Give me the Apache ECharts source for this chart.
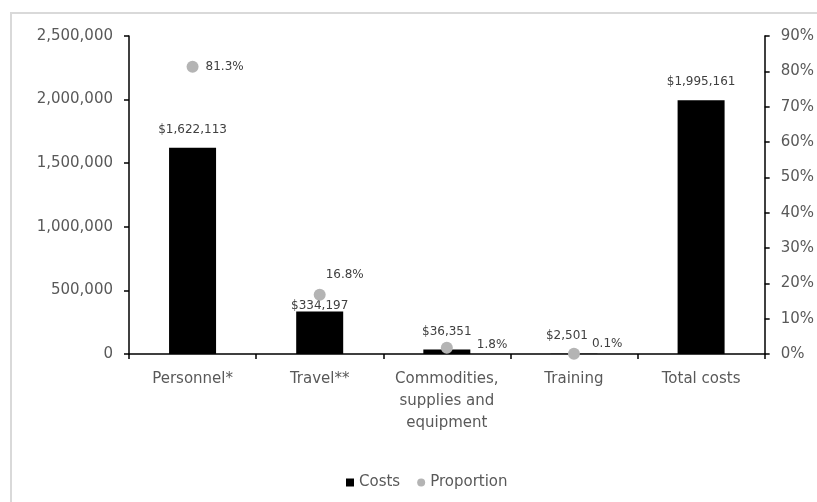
<!DOCTYPE html>
<html><head><meta charset="utf-8">
<script src="https://cdn.jsdelivr.net/npm/echarts@6/dist/echarts.min.js"></script>
<style>html,body{margin:0;padding:0;background:#fff}#c{width:817px;height:502px}</style>
</head><body><div id="c"></div>
<script>
var categories = ['Personnel*', 'Travel**', 'Commodities,\nsupplies and\nequipment', 'Training', 'Total costs'];
var costs = [1622113, 334197, 36351, 2501, 1995161];
var proportion = [81.3, 16.8, 1.8, 0.1, null];
var costTicks = [0, 500000, 1000000, 1500000, 2000000, 2500000];
var pctTicks = [0, 10, 20, 30, 40, 50, 60, 70, 80, 90];

var FONT = 'DejaVu Sans';
var TXT = '#595959';
var LBL = '#404040';
function money(v){ return '$' + v.toLocaleString('en-US'); }

var costLabelDist = [12, 0, 12, 12, 12];
var costData = costs.map(function(v, i){
  return {value: v, label: {distance: costLabelDist[i], offset: i === 3 ? [-7, 0] : [0, 0]}};
});
var propLabelPos = ['right', 'top', 'right', 'right', 'right'];
var propLabelOff = [[2, 0], [25, -3], [19, -3], [7, -10], [0, 0]];
var propData = proportion.map(function(v, i){
  return {value: v, label: {position: propLabelPos[i], offset: propLabelOff[i], color: LBL}};
});

var chart = echarts.init(document.getElementById('c'), null, {renderer: 'canvas'});
chart.setOption({
  animation: false,
  textStyle: {fontFamily: FONT},
  graphic: [{type: 'rect', shape: {x: 11, y: 13, width: 1200, height: 1000},
    style: {fill: 'none', stroke: '#d9d9d9', lineWidth: 2}, silent: true}],
  grid: {left: 129, right: 52, top: 36, bottom: 148},
  legend: {
    top: 470, left: 341, itemGap: 17, itemWidth: 8, itemHeight: 8,
    textStyle: {fontFamily: FONT, fontSize: 15, color: TXT},
    data: [{name: 'Costs', icon: 'rect'}, {name: 'Proportion', icon: 'circle'}]
  },
  xAxis: {
    type: 'category', data: categories,
    axisLine: {lineStyle: {color: '#000', width: 1.5}},
    axisTick: {show: true, length: 5, lineStyle: {color: '#000', width: 1.5}},
    axisLabel: {fontFamily: FONT, fontSize: 15, color: TXT, margin: 14, lineHeight: 22, interval: 0}
  },
  yAxis: [{
    type: 'value', min: costTicks[0], max: costTicks[costTicks.length - 1], interval: costTicks[1] - costTicks[0],
    splitLine: {show: false},
    axisLine: {show: true, lineStyle: {color: '#000', width: 1.5}},
    axisTick: {show: true, length: 5, lineStyle: {color: '#000', width: 1.5}},
    axisLabel: {fontFamily: FONT, fontSize: 15, color: TXT, margin: 16,
      formatter: function(v){ return v.toLocaleString('en-US'); }}
  }, {
    type: 'value', min: pctTicks[0], max: pctTicks[pctTicks.length - 1], interval: pctTicks[1] - pctTicks[0],
    position: 'right',
    splitLine: {show: false},
    axisLine: {show: true, lineStyle: {color: '#000', width: 1.5}},
    axisTick: {show: true, length: 5, lineStyle: {color: '#000', width: 1.5}},
    axisLabel: {fontFamily: FONT, fontSize: 15, color: TXT, margin: 16, formatter: '{value}%'}
  }],
  series: [{
    name: 'Costs', type: 'bar', data: costData, barWidth: 47, yAxisIndex: 0,
    itemStyle: {color: '#000'},
    label: {show: true, position: 'top', fontFamily: FONT, fontSize: 12, color: LBL,
      formatter: function(p){ return money(p.value); }}
  }, {
    name: 'Proportion', type: 'scatter', data: propData, yAxisIndex: 1,
    symbol: 'circle', symbolSize: 12, itemStyle: {color: '#b4b4b4', opacity: 1},
    label: {show: true, fontFamily: FONT, fontSize: 12, color: LBL,
      formatter: function(p){ return p.value.toFixed(1) + '%'; }}
  }]
});
</script></body></html>
